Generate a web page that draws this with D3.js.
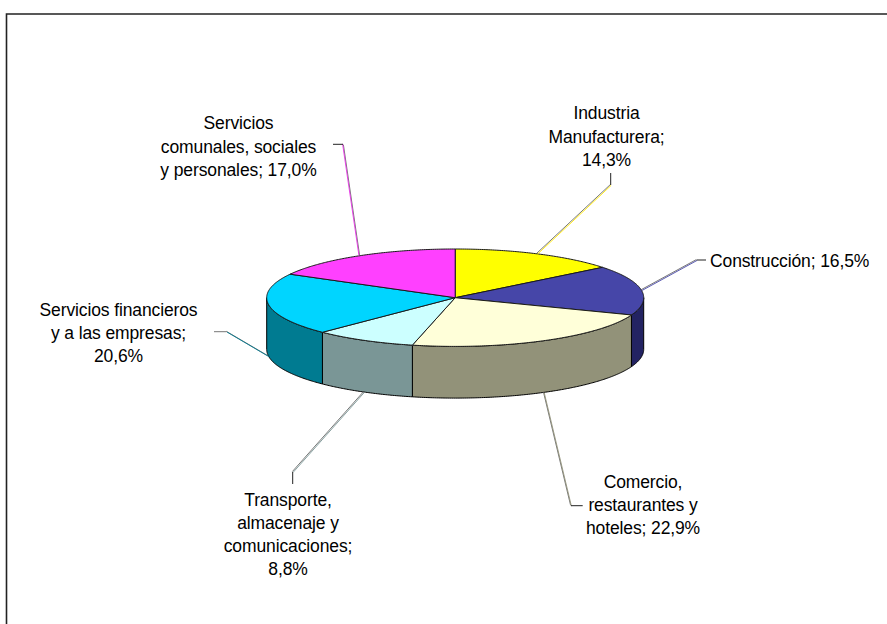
<!DOCTYPE html>
<html>
<head>
<meta charset="utf-8">
<script src="https://cdn.jsdelivr.net/npm/d3@7/dist/d3.min.js"></script>
<style>
html,body{margin:0;padding:0;background:#fff;overflow:hidden}
svg{display:block}
text{font-family:"Liberation Sans",Arial,sans-serif;font-size:17.5px;fill:#000;letter-spacing:-0.12px}
</style>
</head>
<body>
<svg id="chart" width="887" height="624"></svg>
<script>
const categories = ["Industria Manufacturera","Construcción","Comercio, restaurantes y hoteles","Transporte, almacenaje y comunicaciones","Servicios financieros y a las empresas","Servicios comunales, sociales y personales"];
const shares = [14.3,16.5,22.9,8.8,20.6,17.0];
const valueLabels = ["14,3%","16,5%","22,9%","8,8%","20,6%","17,0%"];
const labelLines = [
  ["Industria","Manufacturera;","14,3%"],
  ["Construcción; 16,5%"],
  ["Comercio,","restaurantes y","hoteles; 22,9%"],
  ["Transporte,","almacenaje y","comunicaciones;","8,8%"],
  ["Servicios financieros","y a las empresas;","20,6%"],
  ["Servicios","comunales, sociales","y personales; 17,0%"]
];
const topColors = ["#FFFF00","#4646A8","#FFFFD9","#CCFFFF","#00D5FF","#FF40FF"];
const sideColors = ["#808000","#232362","#929279","#7A9696","#007B91","#802080"];
const leaderColors = ["#FFE800","#4646A8","#929279","#7A9696","#007B91","#E830E8"];

// layout of the chart
const cx = 455.2, cy = 297.7, rx = 188.5, ry = 48.7, depth = 51.7;
const x = d3.scaleLinear().domain([-1,1]).range([cx-rx,cx+rx]);
const y = d3.scaleLinear().domain([-1,1]).range([cy-ry,cy+ry]);
const labelLayout = [
  {tx:606.5,ty:119.3,anchor:"middle",elbow:[610.7,185],end:[610.7,173]},
  {tx:710,ty:266.7,anchor:"start",elbow:[696.7,260],end:[706,260]},
  {tx:643,ty:487.7,anchor:"middle",elbow:[571,505.7],end:[582.7,505.7]},
  {tx:288,ty:505.7,anchor:"middle",elbow:[292.7,472],end:[292.7,484]},
  {tx:118.5,ty:315.7,anchor:"middle",elbow:[226.7,331.7],end:[214,331.7]},
  {tx:238.5,ty:129.3,anchor:"middle",elbow:[343,144.3],end:[333,144.3]}
];
const lineStep = 23;

const svg = d3.select("#chart");

// frame
svg.append("path").attr("d","M6.5 624V14H887").attr("fill","none").attr("stroke","#222").attr("stroke-width",1.6);

const arcs = d3.pie().sort(null).value(d=>d)(shares);
const px = a => x(Math.sin(a));
const py = (a,dz=0) => y(-Math.cos(a)) + dz;
const angles = (a0,a1) => {
  const n = Math.max(2,Math.ceil((a1-a0)/0.01));
  return d3.range(n+1).map(i=>a0+(a1-a0)*i/n);
};
const line = d3.line();

// rim: only the front half of the ellipse shows
const rimG = svg.append("g");
arcs.forEach((arc,i)=>{
  const a0 = Math.max(arc.startAngle,Math.PI/2), a1 = Math.min(arc.endAngle,Math.PI*1.5);
  if(a1<=a0) return;
  const upper = angles(a0,a1).map(a=>[px(a),py(a)]);
  const lower = angles(a0,a1).reverse().map(a=>[px(a),py(a,depth)]);
  rimG.append("path").attr("d",line(upper.concat(lower))+"Z")
    .attr("fill",sideColors[i]).attr("stroke","#000").attr("stroke-width",1).attr("stroke-linejoin","round");
});

// top face
const topG = svg.append("g");
arcs.forEach((arc,i)=>{
  const pts = [[x(0),y(0)]].concat(angles(arc.startAngle,arc.endAngle).map(a=>[px(a),py(a)]));
  topG.append("path").attr("d",line(pts)+"Z")
    .attr("fill",topColors[i]).attr("stroke","#1a1a1a").attr("stroke-width",1).attr("stroke-linejoin","round");
});

// leader lines start at each slice's mid angle
const leaderG = svg.append("g").attr("fill","none");
arcs.forEach((arc,i)=>{
  const mid = (arc.startAngle+arc.endAngle)/2;
  const front = Math.cos(mid)<0;
  const start = [px(mid),py(mid,front?depth:0)];
  const L = labelLayout[i];
  const darkSide = i===5 ? 0.4 : -0.4;
  leaderG.append("path").attr("d",line([start,L.elbow]))
    .attr("stroke","#555").attr("stroke-width",0.8).attr("transform",`translate(${darkSide},${darkSide})`);
  leaderG.append("path").attr("d",line([start,L.elbow]))
    .attr("stroke",leaderColors[i]).attr("stroke-width",0.9).attr("transform",`translate(${-darkSide},${-darkSide})`);
  leaderG.append("path").attr("d",line([L.elbow,L.end]))
    .attr("stroke",i===4?"#777":"#222").attr("stroke-width",1);
});

// labels
const labelG = svg.append("g");
labelLines.forEach((lines,i)=>{
  const L = labelLayout[i];
  lines.forEach((t,j)=>{
    labelG.append("text").attr("x",L.tx).attr("y",L.ty+j*lineStep+ (j>0?0.2:0))
      .attr("text-anchor",L.anchor).text(t);
  });
});
</script>
</body>
</html>
